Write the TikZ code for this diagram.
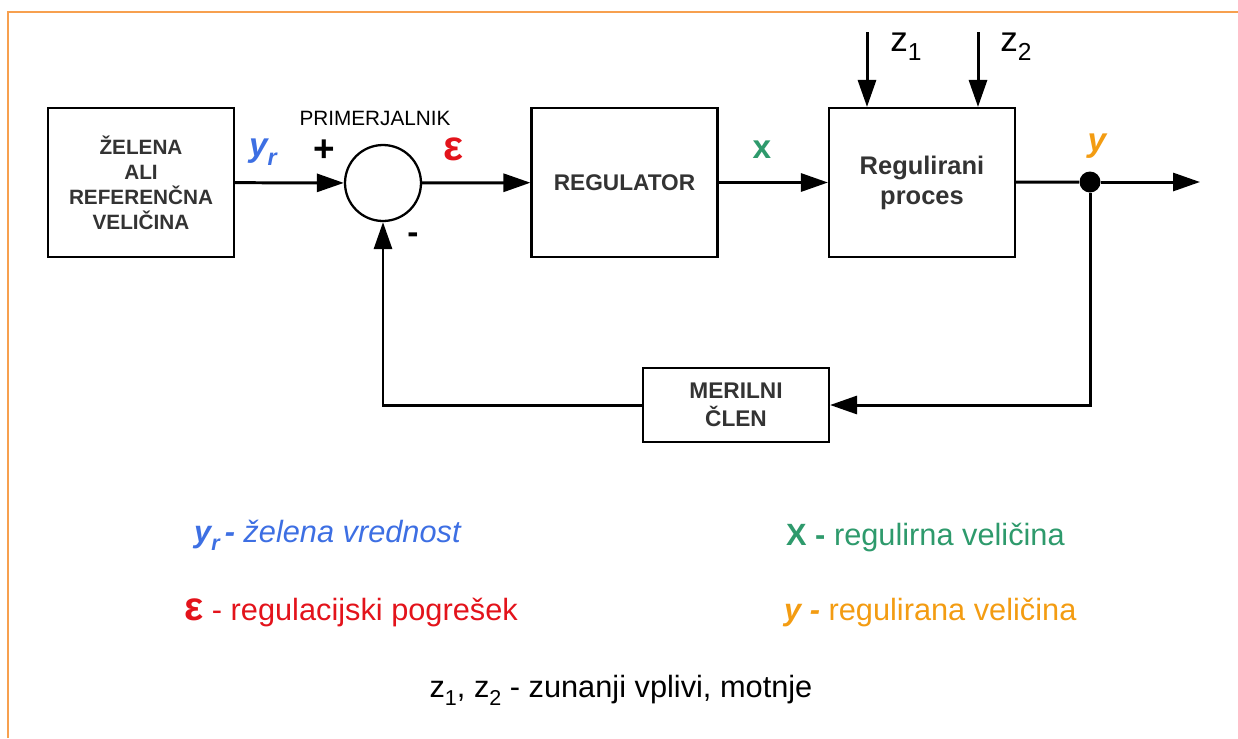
\documentclass[tikz,border=0pt]{standalone}
\usepackage{fontspec}
\setmainfont{Liberation Sans}
\usetikzlibrary{arrows.meta}
\definecolor{okvir}{HTML}{F7A04F}
\definecolor{modra}{HTML}{3D6FE3}
\definecolor{rdeca}{HTML}{E3131B}
\definecolor{zelena}{HTML}{2E9A6C}
\definecolor{oranzna}{HTML}{F39C12}
\definecolor{besedilo}{HTML}{333333}
\newcommand{\indeks}[1]{\raisebox{-0.5ex}{\scalebox{0.7}{#1}}}
\begin{document}
\begin{tikzpicture}[x=0.02cm, y=-0.02cm,
  blok/.style={draw, line width=1.2pt, text=besedilo, align=center,
    minimum width=3.72cm, minimum height=2.98cm, inner sep=0pt},
  puscica/.style={line width=1.7pt, -{Triangle[length=0.54cm, width=0.36cm]}},
  povezava/.style={line width=1.7pt},
  oznaka/.style={font=\bfseries\fontsize{19}{22}\selectfont},
  legenda/.style={anchor=west, font=\fontsize{17.5}{21}\selectfont}]
\useasboundingbox (0,0) rectangle (1238,738);
% Frame
\draw[okvir, line width=0.6pt] (8,738) -- (8,12) -- (1238,12);
% Blocks
\node[blok, font=\bfseries\fontsize{11.8}{14.2}\selectfont] (zelena) at (141,182.5) {ŽELENA\\ALI\\REFERENČNA\\VELIČINA};
\node[draw, circle, line width=1.3pt, minimum size=1.52cm, inner sep=0pt] (prim) at (383,183) {};
\node[blok, font=\bfseries\fontsize{12.9}{15}\selectfont] (reg) at (624.5,182.5) {REGULATOR};
\node[blok, font=\bfseries\fontsize{14.5}{17}\selectfont] (proc) at (922,182.5) {Regulirani\\proces};
\node[blok, minimum height=1.48cm, font=\bfseries\fontsize{12.9}{15.9}\selectfont] (meril) at (736,405) {MERILNI\\ČLEN};
\node[circle, fill, inner sep=0pt, minimum size=0.42cm] (vej) at (1090,182) {};
\coordinate (izhod) at (1200,182);
\coordinate (z1zac) at (867,32);
\coordinate (z2zac) at (978,32);
% Connectors
\draw[puscica] (zelena) -- (prim);
\draw[puscica] (prim) -- (reg);
\draw[puscica] (reg) -- (proc);
\draw[povezava] (proc) -- (vej);
\draw[puscica] (vej) -- (izhod);
\draw[puscica] (z1zac) -- (z1zac |- proc.north);
\draw[puscica] (z2zac) -- (z2zac |- proc.north);
\draw[puscica] (vej) |- (meril);
\draw[puscica] (meril) -| (prim);
% Labels
\node[font=\fontsize{11.8}{14}\selectfont] (primlab) at (375,118) {PRIMERJALNIK};
\node[oznaka, font=\bfseries\fontsize{21}{22}\selectfont] (plus) at (324,151) {+};
\node[oznaka] (minus) at (413,238) {-};
\node[oznaka, text=modra] (yr) at (263,152) {\itshape y\indeks{r}};
\node[oznaka, text=rdeca, font=\bfseries\fontsize{24}{24}\selectfont] (eps) at (454,149) {ε};
\node[oznaka, text=zelena] (xlab) at (762,150) {x};
\node[oznaka, text=oranzna] (ylab) at (1097,146) {\itshape y};
\node[font=\fontsize{20}{22}\selectfont] (z1) at (906,47) {z\indeks{1}};
\node[font=\fontsize{20}{22}\selectfont] (z2) at (1016,47) {z\indeks{2}};
% Legend
\node[legenda, text=modra] (leg1) at (188,535) {{\bfseries\itshape y\indeks{r}\,-} \itshape želena vrednost};
\node[legenda, text=rdeca] (leg2) at (178,612) {{\bfseries\fontsize{23}{23}\selectfont ε} - regulacijski pogrešek};
\node[legenda, text=zelena] (leg3) at (780,537) {{\bfseries X -} regulirna veličina};
\node[legenda, text=oranzna] (leg4) at (778,612) {{\bfseries\itshape y -} regulirana veličina};
\node[font=\fontsize{17.5}{21}\selectfont] (leg5) at (621,690) {z\indeks{1}, z\indeks{2} - zunanji vplivi, motnje};
\end{tikzpicture}
\end{document}
